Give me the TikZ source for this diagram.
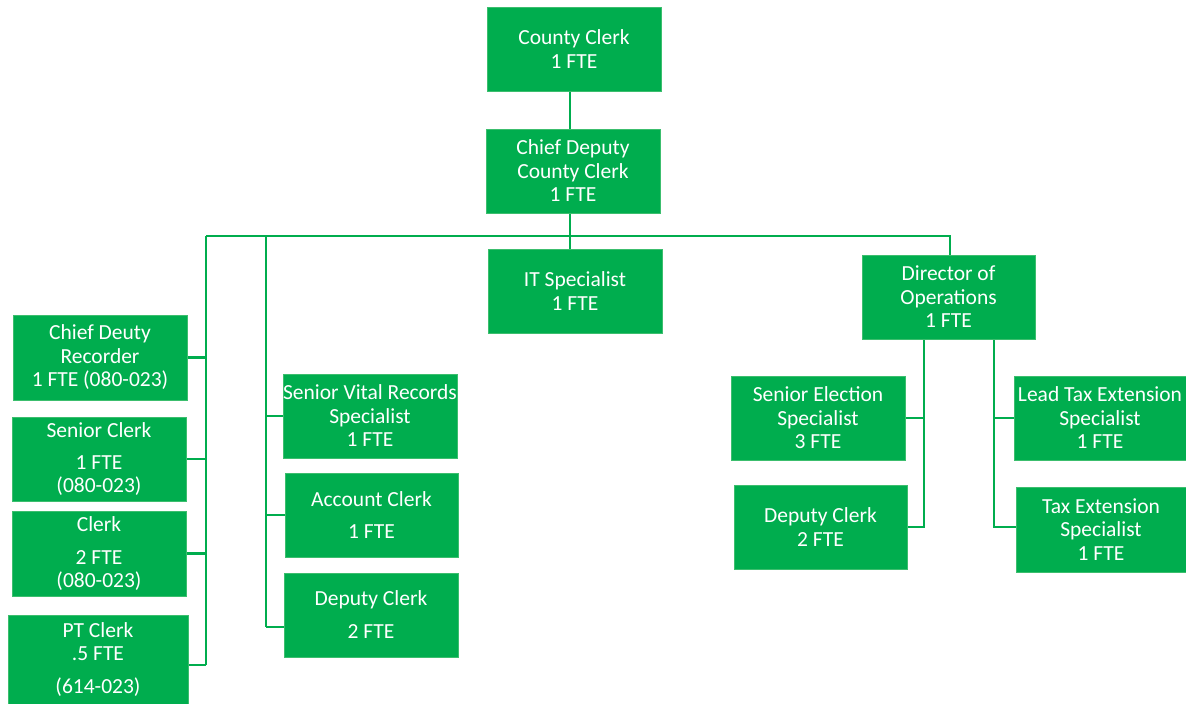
\documentclass[tikz,border=0pt]{standalone}
\usepackage{fontspec}
\setmainfont{Carlito}
\usetikzlibrary{backgrounds}
\definecolor{boxgreen}{RGB}{0,173,78}
\definecolor{edgegreen}{RGB}{60,190,110}
\begin{document}
\begin{tikzpicture}[x=1pt,y=-1pt,
  orgbox/.style={rectangle, fill=boxgreen, draw=edgegreen, line width=0.6pt,
    minimum width=174pt, minimum height=84pt, inner sep=0pt, align=center,
    text=white, font=\fontsize{21.5}{23.5}\selectfont},
  link/.style={draw=boxgreen, line width=2.6pt}]
\useasboundingbox (0,0) rectangle (1186,704);
% boxes
\node[orgbox] (cc) at (574,49) {County Clerk\\1 FTE};
\node[orgbox] (cd) at (573,171) {Chief Deputy\\County Clerk\\1 FTE};
\node[orgbox] (it) at (575,291) {IT Specialist\\1 FTE};
\node[orgbox, minimum width=173pt] (dir) at (948.5,297) {Director of\\Operations\\1 FTE};
\node[orgbox, minimum height=85pt] (cdr) at (100,357.5) {Chief Deuty\\Recorder\\1 FTE (080-023)};
\node[orgbox] (sc) at (99,459) {Senior Clerk\\[8.5pt]1 FTE\\(080-023)};
\node[orgbox, minimum height=85pt] (cl) at (99,553.5) {Clerk\\[9.5pt]2 FTE\\(080-023)};
\node[orgbox, minimum width=180pt, minimum height=89pt] (pt) at (98,659.5) {PT Clerk\\.5 FTE\\[9.5pt](614-023)};
\node[orgbox] (svr) at (370,416) {Senior Vital Records\\Specialist\\1 FTE};
\node[orgbox, minimum width=173pt] (ac) at (371.5,515) {Account Clerk\\[8.5pt]1 FTE};
\node[orgbox] (dca) at (371,615) {Deputy Clerk\\[9.5pt]2 FTE};
\node[orgbox] (ses) at (818,418) {Senior Election\\Specialist\\3 FTE};
\node[orgbox, minimum width=173pt] (dcb) at (820.5,527) {Deputy Clerk\\2 FTE};
\node[orgbox, minimum width=172pt] (lte) at (1100,418) {Lead Tax Extension\\Specialist\\1 FTE};
\node[orgbox, minimum width=170pt, minimum height=85pt] (tes) at (1101,529.5) {Tax Extension\\Specialist\\1 FTE};
% junction coordinates
\coordinate (busL) at (206,236);
\coordinate (busM) at (266,236);
\coordinate (busC) at (570,236);
\coordinate (busR) at (950,236);
\coordinate (leftEnd) at (206,665);
\coordinate (midEnd) at (266,627);
\coordinate (dL) at (924,340);
\coordinate (dR) at (994,340);
\coordinate (dLend) at (924,527);
\coordinate (dRend) at (994,527);
% connectors
\begin{pgfonlayer}{background}
\draw[link] (cc.south -| busC) -- (cd.north -| busC);
\draw[link] (cd.south -| busC) -- (it.north -| busC);
\draw[link] (busL) -- (busR) -- (dir.north -| busR);
\draw[link] (busL) -- (leftEnd);
\draw[link] (busM) -- (midEnd);
\draw[link] (cdr.east) -- (cdr.east -| busL);
\draw[link] (sc.east) -- (sc.east -| busL);
\draw[link] (cl.east) -- (cl.east -| busL);
\draw[link] (pt.east |- leftEnd) -- (leftEnd);
\draw[link] (svr.west) -- (svr.west -| busM);
\draw[link] (ac.west) -- (ac.west -| busM);
\draw[link] (dca.west |- midEnd) -- (midEnd);
\draw[link] (dir.south -| dL) -- (dLend) -- (dcb.east |- dLend);
\draw[link] (dir.south -| dR) -- (dRend) -- (tes.west |- dRend);
\draw[link] (ses.east) -- (ses.east -| dL);
\draw[link] (lte.west) -- (lte.west -| dR);
\end{pgfonlayer}
\end{tikzpicture}
\end{document}
